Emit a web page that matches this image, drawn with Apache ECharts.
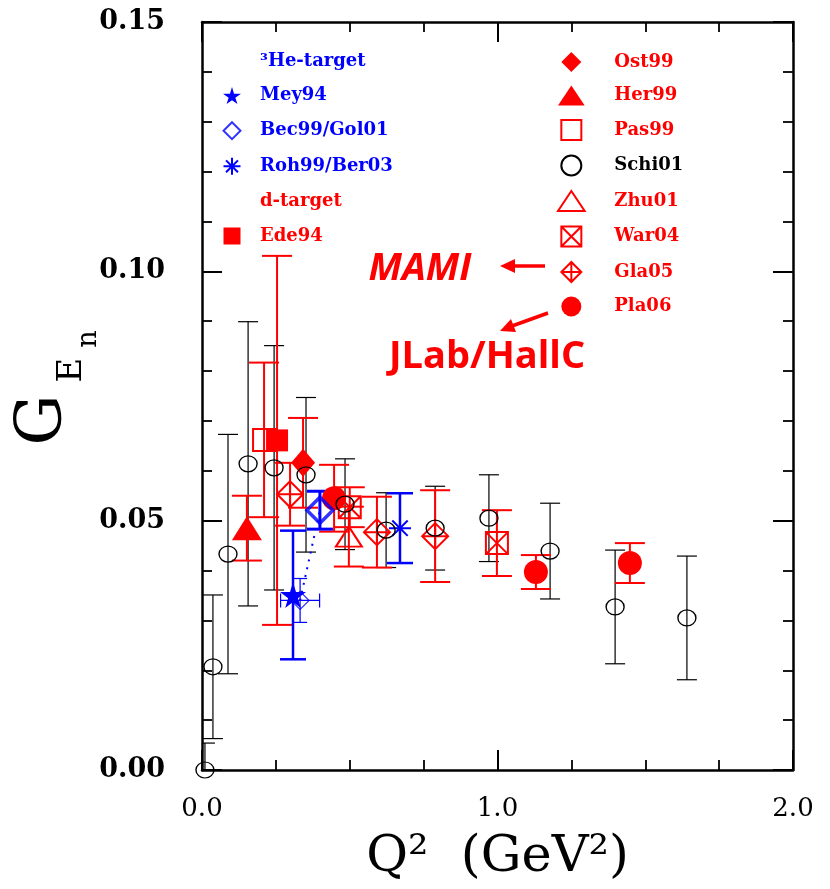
<!DOCTYPE html>
<html>
<head>
<meta charset="utf-8">
<script src="https://cdn.jsdelivr.net/npm/echarts@6/dist/echarts.min.js"></script>
<style>
    html, body { margin: 0; background: #fff; }
    #chart { width: 830px; height: 889px; }
</style>
</head>
<body>
<div id="chart"></div>
<script>
// each point: [Q2 (GeV^2), GEn, error on GEn]
const schi01 = [
    [0.01, 0.0, 0.0054], [0.037, 0.0207, 0.0144], [0.088, 0.0433, 0.024],
    [0.156, 0.0614, 0.0285], [0.244, 0.0606, 0.0245], [0.352, 0.0592, 0.0155],
    [0.484, 0.0533, 0.0091], [0.623, 0.0481, 0.0075], [0.789, 0.0485, 0.0084],
    [0.971, 0.0505, 0.0087], [1.178, 0.0439, 0.0096], [1.398, 0.0327, 0.0114],
    [1.641, 0.0305, 0.0124],
]
const ede94 = [[0.254, 0.0661, 0.037]]
const pas99 = [[0.21, 0.0662, 0.0155]]
const ost99 = [[0.342, 0.0616, 0.009]]
const her99 = [[0.152, 0.0485, 0.0065]]
const zhu01 = [[0.497, 0.0468, 0.006]]
const war04 = [[0.5, 0.0527, 0.004], [0.998, 0.0455, 0.0066]]
const gla05 = [[0.298, 0.0553, 0.0063], [0.592, 0.0477, 0.0071], [0.789, 0.0469, 0.0092]]
const pla06 = [[0.447, 0.0545, 0.0067], [1.13, 0.0397, 0.0034], [1.448, 0.0415, 0.004]]
const mey94 = [[0.308, 0.0351, 0.0129]]
const bec99 = [[0.399, 0.0521, 0.0038]]
// [Q2, GEn, error on GEn, error on Q2]
const gol01 = [[0.332, 0.034, 0.0044, 0.066]]
const roh99 = [[0.67, 0.0485, 0.007]]

const leftLegend = ['³He-target', 'Mey94', 'Bec99/Gol01', 'Roh99/Ber03', 'd-target', 'Ede94']
const leftColors = ['#0000ff', '#0000ff', '#0000ff', '#0000ff', '#ff0000', '#ff0000']
const rightLegend = ['Ost99', 'Her99', 'Pas99', 'Schi01', 'Zhu01', 'War04', 'Gla05', 'Pla06']
const rightColors = ['#ff0000', '#ff0000', '#ff0000', '#000000', '#ff0000', '#ff0000', '#ff0000', '#ff0000']

const RED = '#ff0000'
const BLUE = '#0000ff'
const STAR = 'path://M50,0 L61,35 L98,35 L68,57 L79,91 L50,70 L21,91 L32,57 L2,35 L39,35 Z'
const ASTER = 'path://M10,0 L10,20 M0,10 L20,10 M3,3 L17,17 M17,3 L3,17'
const BOXX = 'path://M0,0 L20,0 L20,20 L0,20 Z M0,0 L20,20 M20,0 L0,20'
const DIACROSS = 'path://M10,0 L20,10 L10,20 L0,10 Z M10,0 L10,20 M0,10 L20,10'
const SQUARE = 'path://M0,0 L20,0 L20,20 L0,20 Z'
const DIAMOND = 'path://M10,0 L20,10 L10,20 L0,10 Z'
const TRIANGLE = 'path://M10,0 L20,15 L0,15 Z'

function errorBars(data, color, width, cap) {
    return {
        type: 'custom',
        silent: true,
        clip: true,
        z: 2,
        encode: { x: 0, y: 1 },
        data: data,
        renderItem(params, api) {
            const x = api.value(0)
            const y = api.value(1)
            const e = api.value(2)
            const hi = api.coord([x, y + e])
            const lo = api.coord([x, y - e])
            const style = { stroke: color, lineWidth: width }
            const children = [
                { type: 'line', shape: { x1: hi[0], y1: hi[1], x2: lo[0], y2: lo[1] }, style },
                { type: 'line', shape: { x1: hi[0] - cap, y1: hi[1], x2: hi[0] + cap, y2: hi[1] }, style },
                { type: 'line', shape: { x1: lo[0] - cap, y1: lo[1], x2: lo[0] + cap, y2: lo[1] }, style },
            ]
            if (data[params.dataIndex].length > 3) {
                const ex = api.value(3)
                const l = api.coord([x - ex, y])
                const r = api.coord([x + ex, y])
                children.push(
                    { type: 'line', shape: { x1: l[0], y1: l[1], x2: r[0], y2: r[1] }, style },
                    { type: 'line', shape: { x1: l[0], y1: l[1] - cap, x2: l[0], y2: l[1] + cap }, style },
                    { type: 'line', shape: { x1: r[0], y1: r[1] - cap, x2: r[0], y2: r[1] + cap }, style }
                )
            }
            return { type: 'group', children }
        },
    }
}

function markers(name, data, symbol, size, fill, stroke, lw) {
    return {
        type: 'scatter',
        name,
        symbol,
        symbolSize: size,
        z: 5,
        silent: true,
        data: data.map(d => [d[0], d[1]]),
        itemStyle: { color: fill, borderColor: stroke, borderWidth: lw, opacity: 1 },
    }
}

function frameAxis(type, position, showLabel) {
    const ax = {
        type: 'value',
        position,
        min: 0,
        max: type === 'x' ? 2 : 0.15,
        interval: type === 'x' ? 1 : 0.05,
        axisLine: { show: true, onZero: false, lineStyle: { color: '#000', width: 2.5 } },
        axisTick: { show: true, inside: true, length: 20, lineStyle: { color: '#000', width: 2 } },
        minorTick: { show: true, splitNumber: type === 'x' ? 4 : 5, length: 10, lineStyle: { color: '#000', width: 1.8 } },
        splitLine: { show: false },
        axisLabel: { show: false },
    }
    if (showLabel) {
        ax.axisLabel = type === 'x'
            ? { show: true, margin: 26, color: '#000', fontFamily: 'DejaVu Serif', fontSize: 26,
                formatter: v => v.toFixed(1) }
            : { show: true, margin: 37, color: '#000', fontFamily: 'DejaVu Serif', fontWeight: 'bold', fontSize: 27,
                formatter: v => v.toFixed(2) }
    }
    return ax
}

const chart = echarts.init(document.getElementById('chart'))

const legendBase = {
    orient: 'vertical',
    selectedMode: false,
    textStyle: { fontFamily: 'DejaVu Serif', fontWeight: 'bold', fontSize: 18 },
}

const xBottom = frameAxis('x', 'bottom', true)
xBottom.name = 'Q²  (GeV²)'
xBottom.nameLocation = 'middle'
xBottom.nameGap = 62
xBottom.nameTextStyle = { fontFamily: 'DejaVu Serif', fontSize: 51, color: '#000' }

chart.setOption({
    animation: false,
    grid: { left: 202, right: 37, top: 22, bottom: 119 },
    xAxis: [xBottom, frameAxis('x', 'top', false)],
    yAxis: [frameAxis('y', 'left', true), frameAxis('y', 'right', false)],
    legend: [
        Object.assign({}, legendBase, {
            left: 204, top: 47, itemWidth: 46, itemHeight: 17, itemGap: 16.6,
            data: leftLegend.map((n, i) => ({
                name: n, textStyle: { color: leftColors[i] },
                icon: n.indexOf('target') >= 0 ? 'none' : undefined,
            })),
        }),
        Object.assign({}, legendBase, {
            left: 552, top: 47, itemWidth: 76, itemHeight: 20, itemGap: 13.5,
            data: rightLegend.map((n, i) => ({ name: n, textStyle: { color: rightColors[i] } })),
        }),
    ],
    graphic: [
        { type: 'text', x: 44, y: 420, rotation: Math.PI / 2,
          style: { text: 'G', fontFamily: 'DejaVu Serif', fontSize: 64, fill: '#000', align: 'center', verticalAlign: 'middle' } },
        { type: 'text', x: 72, y: 370, rotation: Math.PI / 2,
          style: { text: 'E', fontFamily: 'DejaVu Serif', fontSize: 34, fill: '#000', align: 'center', verticalAlign: 'middle' } },
        { type: 'text', x: 89, y: 339, rotation: Math.PI / 2,
          style: { text: 'n', fontFamily: 'DejaVu Serif', fontSize: 27, fill: '#000', align: 'center', verticalAlign: 'middle' } },
        { type: 'text', x: 420, y: 269,
          style: { text: 'MAMI', fontFamily: 'Open Sans', fontWeight: 'bold', fontStyle: 'italic', fontSize: 38,
                   fill: RED, align: 'center', verticalAlign: 'middle' } },
        { type: 'text', x: 487, y: 357,
          style: { text: 'JLab/HallC', fontFamily: 'Open Sans', fontWeight: 'bold', fontSize: 38,
                   fill: RED, align: 'center', verticalAlign: 'middle' } },
        { type: 'line', shape: { x1: 545, y1: 266, x2: 512, y2: 266 }, style: { stroke: RED, lineWidth: 3.5 } },
        { type: 'polygon', shape: { points: [[500, 266], [515, 259], [515, 273]] }, style: { fill: RED } },
        { type: 'line', shape: { x1: 548, y1: 313, x2: 512, y2: 326 }, style: { stroke: RED, lineWidth: 3.5 } },
        { type: 'polygon', shape: { points: [[500, 331], [511, 319], [516, 332]] }, style: { fill: RED } },
    ],
    series: [
        errorBars(schi01, '#000', 1.2, 10),
        errorBars(ede94, RED, 2, 15),
        errorBars(pas99, RED, 2, 15),
        errorBars(ost99, RED, 2, 15),
        errorBars(her99, RED, 2, 15),
        errorBars(zhu01, RED, 2, 15),
        errorBars(war04, RED, 2, 15),
        errorBars(gla05, RED, 2, 15),
        errorBars(pla06, RED, 2, 15),
        errorBars(mey94, BLUE, 2.5, 13),
        errorBars(bec99, BLUE, 3, 13),
        errorBars(gol01, BLUE, 1.2, 7),
        errorBars(roh99, BLUE, 2.5, 13),
        {
            type: 'line', silent: true, z: 3, symbol: 'none',
            data: [[gol01[0][0], gol01[0][1]], [bec99[0][0], bec99[0][1]]],
            lineStyle: { color: BLUE, width: 2, type: [2, 6] },
        },
        { type: 'scatter', name: '³He-target', data: [] },
        { type: 'scatter', name: 'd-target', data: [] },
        markers('Ede94', ede94, SQUARE, 22, RED, RED, 0),
        markers('Pas99', pas99, SQUARE, 22, 'transparent', RED, 2),
        markers('Ost99', ost99, DIAMOND, [24, 28], RED, RED, 0),
        markers('Her99', her99, TRIANGLE, [30, 24], RED, RED, 0),
        markers('Zhu01', zhu01, TRIANGLE, [26, 20], 'transparent', RED, 2),
        markers('War04', war04, BOXX, 22, 'transparent', RED, 2),
        markers('Gla05', gla05, DIACROSS, 26, 'transparent', RED, 2),
        markers('Pla06', pla06, 'circle', 24, RED, RED, 0),
        markers('Mey94', mey94, STAR, 26, BLUE, BLUE, 0),
        {
            type: 'scatter', name: 'Bec99/Gol01', symbol: DIAMOND, z: 5, silent: true,
            itemStyle: { color: 'transparent', borderColor: BLUE, borderWidth: 2 },
            data: [
                { value: [bec99[0][0], bec99[0][1]], symbolSize: 26, itemStyle: { borderWidth: 3.5 } },
                { value: [gol01[0][0], gol01[0][1]], symbolSize: 18, itemStyle: { borderWidth: 1.2 } },
            ],
        },
        markers('Roh99/Ber03', roh99, ASTER, 22, 'transparent', BLUE, 2),
        markers('Schi01', schi01, 'circle', [18, 16], 'transparent', '#000', 1.3),
    ],
})
</script>
</body>
</html>
